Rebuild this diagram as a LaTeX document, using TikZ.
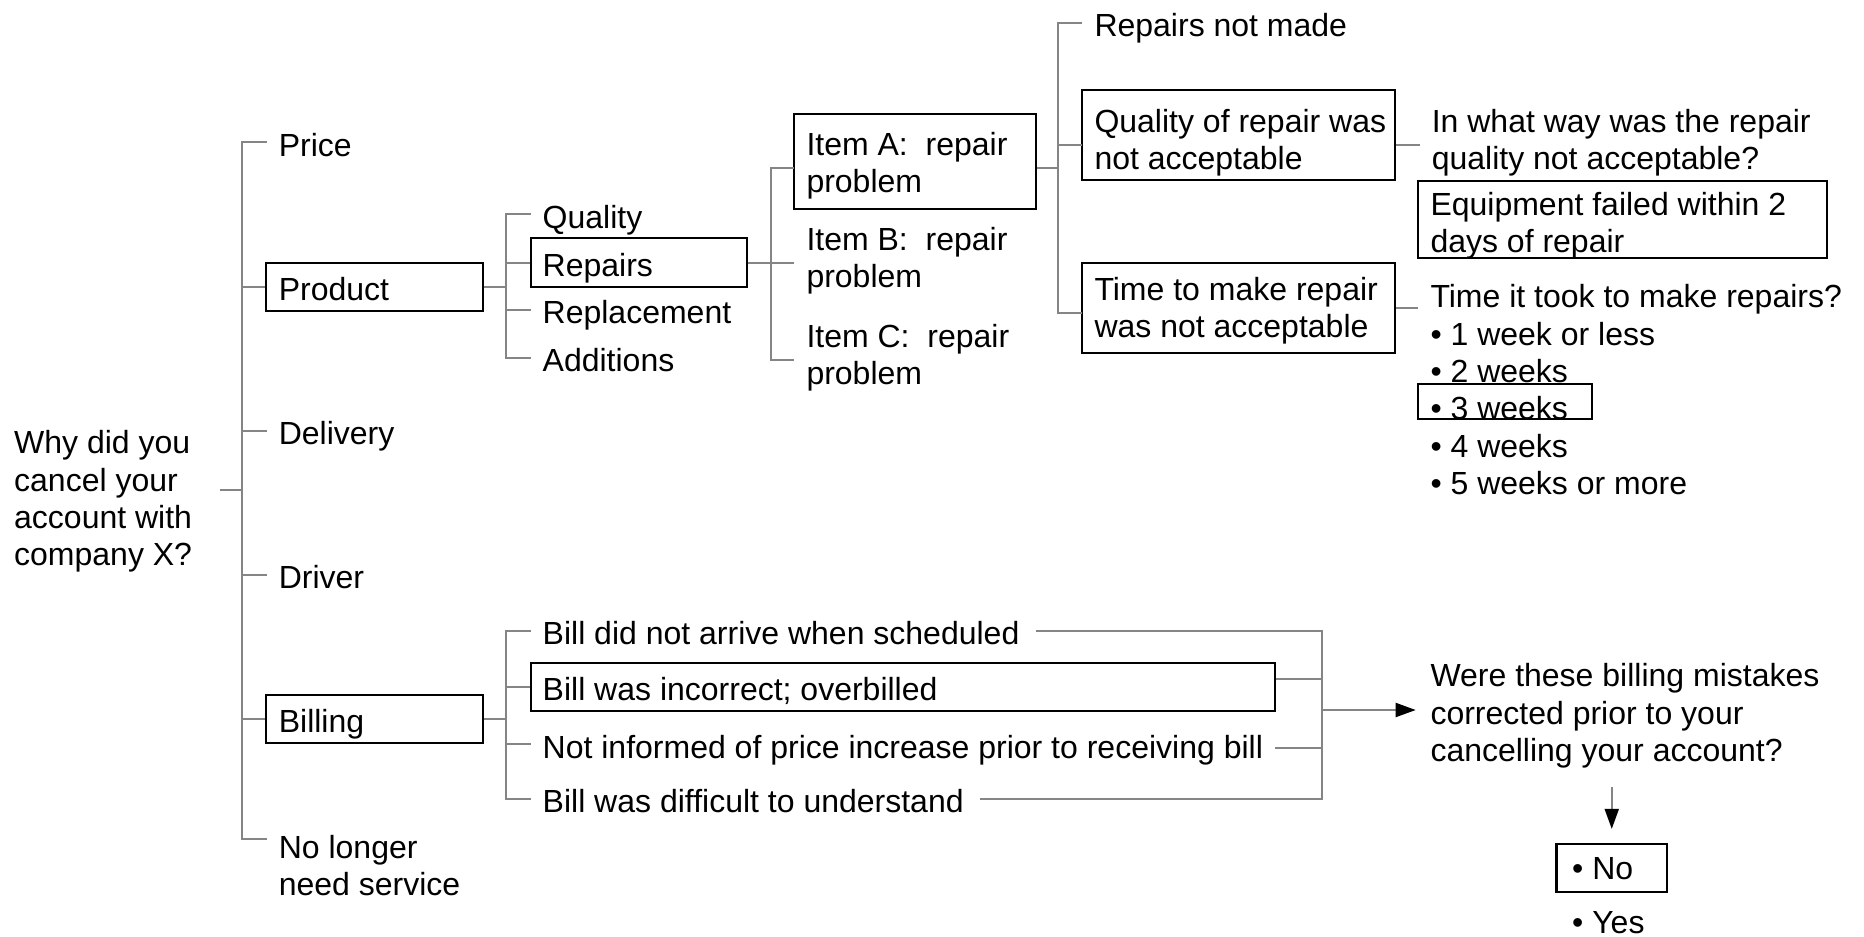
\documentclass[tikz,border=0pt]{standalone}
\usepackage{fontspec}
\setmainfont{Liberation Sans}
\usetikzlibrary{arrows.meta}
\newcommand\diagfont{\fontsize{32pt}{37.3pt}\selectfont\frenchspacing}
\definecolor{linegray}{RGB}{133,133,133}
\begin{document}
\begin{tikzpicture}[x=1pt,y=-1pt,
  conn/.style={draw=linegray,line width=2pt},
  arrowline/.style={conn,-{Triangle[length=20pt,width=14pt,color=black]}},
  frame/.style={draw=black,line width=2.2pt,inner sep=0pt,rectangle},
  one/.style={font=\diagfont,inner xsep=12pt,inner ysep=0pt,text height=30.7pt,text depth=3.3pt,anchor=west},
  multi/.style={font=\diagfont,align=left,inner xsep=12pt,inner ysep=0pt,anchor=north west,yshift=22.9pt,
    execute at end node={\rule[-11pt]{0pt}{11pt}}}]
\useasboundingbox (0,0) rectangle (1864,937);

% bracket joints
\coordinate (j0) at (242.3,490);
\coordinate (j1) at (506.4,286.7);
\coordinate (j2) at (770.7,262.5);
\coordinate (j3) at (1058.3,166);
\coordinate (j4) at (506,719);
\coordinate (mj) at (1322.3,710);

% boxes
\node[frame,minimum width=217pt,minimum height=48pt] (product) at (374.5,286.7) {};
\node[frame,minimum width=217pt,minimum height=48.3pt] (billing) at (374.5,719) {};
\node[frame,minimum width=216.4pt,minimum height=48.4pt] (repairs) at (638.8,262.5) {};
\node[frame,minimum width=241.4pt,minimum height=95.3pt] (itemA) at (915,161.65) {};
\node[frame,minimum width=312.7pt,minimum height=90pt] (qual) at (1238.65,135) {};
\node[frame,minimum width=312.7pt,minimum height=90.6pt] (time) at (1238.65,308) {};
\node[frame,minimum width=409pt,minimum height=77pt] (equip) at (1622.8,219.2) {};
\node[frame,minimum width=174pt,minimum height=34.7pt] (wk3) at (1505.3,401.65) {};
\node[frame,minimum width=744.3pt,minimum height=48.3pt] (binc) at (902.85,686.85) {};
\node[frame,minimum width=110.5pt,minimum height=47.7pt] (nobox) at (1611.75,867.85) {};

% texts
\node[multi] (root) at (2,453.3) {Why did you\\cancel your\\account with\\company X?};
\node[one] (price) at (266.6,142.3) {Price};
\node[one] (productt) at (266.6,286.7) {Product};
\node[one] (delivery) at (266.6,431) {Delivery};
\node[one] (driver) at (266.6,575) {Driver};
\node[one] (billingt) at (266.6,719) {Billing};
\node[multi] (nolonger) at (266.6,858) {No longer\\need service};

\node[one] (quality) at (530.5,214.3) {Quality};
\node[one] (repairst) at (530.5,262.5) {Repairs};
\node[one] (replacement) at (530.5,310) {Replacement};
\node[one] (additions) at (530.5,357.7) {Additions};

\node[multi] (itemAt) at (794.3,155) {Item A:\ \ repair\\problem};
\node[multi] (itemB) at (794.3,250) {Item B:\ \ repair\\problem};
\node[multi] (itemC) at (794.3,346.7) {Item C:\ \ repair\\problem};

\node[one] (notmade) at (1082.3,22.7) {Repairs not made};
\node[multi] (qualt) at (1082.3,131.7) {Quality of repair was\\not acceptable};
\node[multi] (timet) at (1082.3,300) {Time to make repair\\was not acceptable};

\node[multi] (qway) at (1419.6,131.7) {In what way was the repair\\quality not acceptable?};
\node[multi] (equipt) at (1418.3,215) {Equipment failed within 2\\days of repair};
\node[multi] (took) at (1418.3,307.5) {Time it took to make repairs?\\• 1 week or less\\• 2 weeks\\• 3 weeks\\• 4 weeks\\• 5 weeks or more};

\node[one] (bnot) at (530.5,630.7) {Bill did not arrive when scheduled};
\node[one] (binct) at (530.5,686.85) {Bill was incorrect; overbilled};
\node[one] (binf) at (530.5,744.3) {Not informed of price increase prior to receiving bill};
\node[one] (bdif) at (530.5,799) {Bill was difficult to understand};

\node[multi] (were) at (1418.3,686.5) {Were these billing mistakes\\corrected prior to your\\cancelling your account?};
\node[one] (nott) at (1560,866) {• No};
\node[one] (yes) at (1560,920) {• Yes};

% root and first level
\draw[conn,shorten <=15.4pt] (root.east |- j0) -- (j0);
\draw[conn] (price.west) -- (price.west -| j0)
  -- ([yshift=-3.9pt]nolonger.north west -| j0) -- ([yshift=-3.9pt]nolonger.north west);
\foreach \n in {product,delivery,driver,billing}
  \draw[conn] (\n.west -| j0) -- (\n.west);

% product branch
\draw[conn] (product.east) -- (j1);
\draw[conn] (quality.west) -- (quality.west -| j1) -- (additions.west -| j1) -- (additions.west);
\draw[conn] (repairs.west -| j1) -- (repairs.west);
\draw[conn] (replacement.west -| j1) -- (replacement.west);

% repairs branch
\draw[conn] (repairs.east) -- (j2);
\draw[conn] (itemAt.west) -- (itemAt.west -| j2) -- (itemC.west -| j2) -- (itemC.west);
\draw[conn] (itemB.west -| j2) -- (itemB.west);

% item A branch
\draw[conn] (itemAt.west -| itemA.east) -- (itemAt.west -| j3);
\draw[conn] (notmade.west) -- (notmade.west -| j3) -- (timet.west -| j3) -- (timet.west);
\draw[conn] (qualt.west -| j3) -- (qualt.west);
\draw[conn] (qway.west -| qual.east) -- (qway.west);
\draw[conn] (time.east) -- (time.east -| took.west);

% billing branch
\draw[conn] (billing.east) -- (j4);
\draw[conn] (bnot.west) -- (bnot.west -| j4) -- (bdif.west -| j4) -- (bdif.west);
\draw[conn] (binc.west -| j4) -- (binc.west);
\draw[conn] (binf.west -| j4) -- (binf.west);

% billing merge
\draw[conn,shorten <=4pt,shorten >=4pt] (bnot.east) -- (bnot.east -| mj) -- (bdif.east -| mj) -- (bdif.east);
\draw[conn] ([yshift=7.85pt]binc.east) -- ([yshift=7.85pt]binc.east -| mj);
\draw[conn] ([yshift=-3.4pt]binf.east) -- ([yshift=-3.4pt]binf.east -| mj);
\draw[arrowline,shorten >=2.6pt] (mj) -- (mj -| were.west);
\draw[arrowline,shorten <=14.2pt,shorten >=14pt] (were.south -| nobox.north) -- (nobox.north);
\end{tikzpicture}
\end{document}
